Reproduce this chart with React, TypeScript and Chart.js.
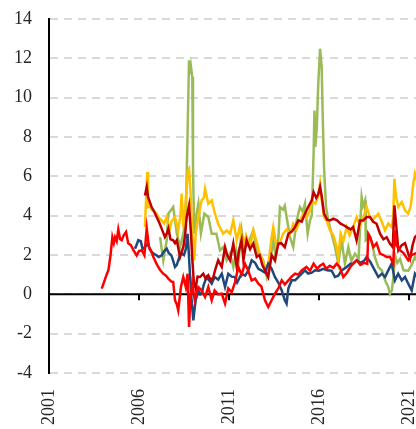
import React, { useEffect, useRef } from "react";
import { Chart, registerables } from "chart.js";

Chart.register(...registerables);

const xTickYears = [2001, 2006, 2011, 2016, 2021];
const xMin = 2001;
const xMax = 2021.39;
const yMin = -4;
const yMax = 14;
const yStep = 2;

const redSeries: [number, number][] = [
  [2003.93, 0.29], [2004.05, 0.6], [2004.2, 1.0], [2004.3, 1.22], [2004.42, 2.0], [2004.52, 2.9],
  [2004.6, 2.6], [2004.67, 2.9], [2004.76, 2.7], [2004.85, 3.3], [2004.95, 2.8], [2005.04, 2.75],
  [2005.15, 3.0], [2005.28, 3.17], [2005.4, 2.6], [2005.55, 2.5], [2005.7, 2.24], [2005.87, 1.98],
  [2006.0, 2.2], [2006.15, 2.24], [2006.3, 1.98], [2006.43, 3.35], [2006.5, 2.8], [2006.56, 2.4],
  [2006.68, 2.2], [2006.8, 1.9], [2006.95, 1.6], [2007.07, 1.39], [2007.2, 1.2], [2007.35, 1.05],
  [2007.5, 0.95], [2007.63, 0.8], [2007.8, 0.65], [2007.9, 0.63], [2008.0, -0.3], [2008.1, -0.5],
  [2008.18, -0.81], [2008.33, 0.37], [2008.46, 0.88], [2008.6, 0.37], [2008.7, 1.05], [2008.78, -1.66],
  [2008.85, -0.3], [2008.96, 0.54], [2009.1, -0.3], [2009.2, 0.1], [2009.3, 0.37], [2009.48, 0.2],
  [2009.67, -0.14], [2009.85, 0.37], [2010.04, -0.3], [2010.2, 0.2], [2010.4, 0.0], [2010.6, 0.03],
  [2010.78, -0.47], [2010.96, 0.3], [2011.15, 0.1], [2011.33, 0.6], [2011.52, 1.39], [2011.7, 1.0],
  [2011.89, 1.56], [2012.07, 1.2], [2012.26, 0.71], [2012.45, 0.8], [2012.63, 0.54], [2012.8, 0.4],
  [2013.0, -0.3], [2013.18, -0.64], [2013.37, -0.3], [2013.55, 0.03], [2013.74, 0.3], [2013.93, 0.71],
  [2014.1, 0.5], [2014.3, 0.71], [2014.48, 0.9], [2014.67, 1.05], [2014.85, 1.0], [2015.04, 1.22],
  [2015.3, 1.39], [2015.5, 1.2], [2015.7, 1.56], [2015.9, 1.3], [2016.05, 1.45], [2016.24, 1.56],
  [2016.4, 1.3], [2016.6, 1.45], [2016.8, 1.35], [2016.98, 1.56], [2017.15, 1.4], [2017.35, 0.88],
  [2017.55, 1.1], [2017.75, 1.4], [2017.9, 1.56], [2018.09, 1.73], [2018.3, 1.5], [2018.5, 1.6],
  [2018.68, 1.55], [2018.74, 3.08], [2018.85, 2.9], [2019.02, 2.4], [2019.2, 2.6], [2019.39, 2.07],
  [2019.58, 2.0], [2019.76, 1.9], [2019.95, 1.9], [2020.13, 1.56], [2020.2, 3.25], [2020.3, 2.5],
  [2020.5, 2.24], [2020.7, 2.1], [2020.96, 1.73], [2021.15, 2.0], [2021.33, 2.07], [2021.45, 2.1],
];

const blueSeries: [number, number][] = [
  [2005.78, 2.32], [2005.9, 2.6], [2005.96, 2.75], [2006.1, 2.7], [2006.2, 2.3], [2006.33, 2.4],
  [2006.5, 2.58], [2006.6, 2.3], [2006.7, 2.15], [2006.85, 2.05], [2006.98, 1.98], [2007.1, 1.9],
  [2007.26, 1.98], [2007.4, 2.2], [2007.54, 2.32], [2007.65, 2.1], [2007.8, 1.98], [2007.9, 1.7],
  [2008.0, 1.39], [2008.1, 1.5], [2008.18, 1.73], [2008.28, 2.0], [2008.37, 2.07], [2008.5, 2.0],
  [2008.6, 2.3], [2008.7, 3.08], [2008.76, 2.2], [2008.83, 1.05], [2008.92, -0.3], [2009.02, -1.32],
  [2009.08, -0.8], [2009.15, -0.3], [2009.3, 0.2], [2009.4, 0.0], [2009.48, 0.03], [2009.6, 0.5],
  [2009.76, 0.88], [2009.9, 0.7], [2010.04, 0.54], [2010.2, 0.88], [2010.4, 0.75], [2010.6, 1.05],
  [2010.78, 0.37], [2010.96, 1.05], [2011.15, 0.9], [2011.33, 0.88], [2011.45, 0.6], [2011.7, 1.05],
  [2011.9, 0.95], [2012.07, 1.2], [2012.26, 1.73], [2012.45, 1.6], [2012.63, 1.3], [2012.8, 1.22],
  [2013.0, 1.1], [2013.18, 1.56], [2013.37, 1.3], [2013.55, 0.88], [2013.74, 0.6], [2013.93, 0.2],
  [2014.1, -0.3], [2014.2, -0.47], [2014.3, 0.3], [2014.48, 0.71], [2014.67, 0.71], [2014.85, 0.88],
  [2015.04, 1.05], [2015.22, 1.22], [2015.4, 1.05], [2015.6, 1.1], [2015.78, 1.22], [2016.0, 1.2],
  [2016.24, 1.3], [2016.45, 1.22], [2016.7, 1.2], [2016.89, 0.88], [2017.07, 0.95], [2017.26, 1.22],
  [2017.54, 1.39], [2017.75, 1.56], [2017.9, 1.56], [2018.09, 1.73], [2018.3, 1.6], [2018.5, 1.7],
  [2018.65, 1.9], [2018.85, 1.65], [2019.1, 1.22], [2019.3, 0.88], [2019.5, 1.05], [2019.67, 0.88],
  [2019.85, 1.22], [2020.04, 1.56], [2020.22, 0.71], [2020.4, 1.05], [2020.6, 0.71], [2020.78, 0.88],
  [2020.96, 0.54], [2021.15, 0.2], [2021.33, 1.05], [2021.45, 0.9],
];

const darkRedSeries: [number, number][] = [
  [2006.33, 5.03], [2006.43, 5.46], [2006.5, 4.95], [2006.6, 4.7], [2006.7, 4.44], [2006.85, 4.2],
  [2006.98, 3.93], [2007.1, 3.7], [2007.26, 3.34], [2007.44, 2.91], [2007.55, 3.1], [2007.63, 3.34],
  [2007.75, 2.8], [2007.9, 2.75], [2008.0, 2.6], [2008.1, 2.75], [2008.28, 1.9], [2008.46, 2.4],
  [2008.56, 3.0], [2008.65, 3.93], [2008.78, 4.52], [2008.89, 3.08], [2008.96, 1.8], [2009.05, 0.6],
  [2009.15, 0.3], [2009.25, 0.9], [2009.39, 0.88], [2009.57, 1.05], [2009.7, 0.8], [2009.85, 0.97],
  [2010.0, 0.7], [2010.13, 0.88], [2010.25, 1.3], [2010.4, 1.73], [2010.6, 1.39], [2010.78, 2.4],
  [2010.9, 2.0], [2011.06, 1.73], [2011.24, 2.58], [2011.43, 1.39], [2011.55, 2.2], [2011.7, 2.75],
  [2011.8, 1.73], [2011.98, 2.75], [2012.17, 2.3], [2012.35, 2.58], [2012.54, 1.9], [2012.7, 2.0],
  [2012.85, 1.5], [2013.0, 1.22], [2013.18, 0.88], [2013.37, 2.0], [2013.55, 1.73], [2013.74, 2.58],
  [2013.9, 2.6], [2014.1, 2.4], [2014.3, 3.08], [2014.5, 3.2], [2014.67, 3.42], [2014.85, 3.76],
  [2015.04, 3.7], [2015.22, 4.1], [2015.4, 4.44], [2015.6, 4.78], [2015.7, 5.2], [2015.85, 4.9],
  [2015.96, 5.1], [2016.06, 5.46], [2016.15, 5.0], [2016.28, 4.1], [2016.45, 3.8], [2016.61, 3.76],
  [2016.8, 3.85], [2017.0, 3.76], [2017.2, 3.59], [2017.4, 3.5], [2017.54, 3.42], [2017.75, 3.3],
  [2017.9, 3.42], [2018.09, 2.75], [2018.28, 3.76], [2018.46, 3.76], [2018.65, 3.93], [2018.83, 3.93],
  [2019.0, 3.7], [2019.2, 3.59], [2019.39, 3.08], [2019.58, 2.8], [2019.76, 2.9], [2019.94, 2.58],
  [2020.1, 2.4], [2020.19, 4.52], [2020.3, 3.4], [2020.41, 2.24], [2020.6, 2.5], [2020.78, 2.6],
  [2020.96, 2.07], [2021.06, 1.81], [2021.2, 2.5], [2021.33, 2.91], [2021.45, 3.0],
];

const yellowSeries: [number, number][] = [
  [2006.33, 3.42], [2006.4, 5.0], [2006.46, 6.22], [2006.5, 4.44], [2006.6, 4.5], [2006.7, 4.3],
  [2006.85, 4.2], [2006.98, 4.1], [2007.1, 3.9], [2007.26, 3.76], [2007.4, 3.6], [2007.54, 3.93],
  [2007.7, 3.25], [2007.8, 3.7], [2008.0, 3.93], [2008.18, 3.25], [2008.3, 4.0], [2008.37, 5.12],
  [2008.46, 3.4], [2008.55, 4.2], [2008.65, 5.46], [2008.72, 6.3], [2008.78, 6.39], [2008.89, 4.78],
  [2008.96, 3.1], [2009.07, 1.73], [2009.15, 3.08], [2009.3, 3.93], [2009.48, 4.78], [2009.6, 4.9],
  [2009.67, 5.37], [2009.85, 4.61], [2010.04, 4.78], [2010.22, 4.1], [2010.4, 3.59], [2010.55, 3.3],
  [2010.68, 3.08], [2010.87, 3.25], [2011.06, 3.08], [2011.24, 3.76], [2011.43, 2.75], [2011.6, 3.42],
  [2011.78, 2.4], [2011.95, 3.0], [2012.17, 2.4], [2012.35, 3.25], [2012.5, 2.8], [2012.7, 2.07],
  [2012.85, 1.8], [2013.0, 1.39], [2013.18, 1.5], [2013.37, 2.91], [2013.46, 3.42], [2013.65, 2.4],
  [2013.83, 2.6], [2014.0, 3.08], [2014.2, 3.3], [2014.39, 3.08], [2014.57, 3.59], [2014.75, 3.3],
  [2014.94, 3.76], [2015.13, 4.1], [2015.3, 3.9], [2015.5, 4.27], [2015.6, 4.78], [2015.8, 4.6],
  [2015.96, 5.0], [2016.06, 5.63], [2016.15, 4.8], [2016.28, 3.93], [2016.45, 3.7], [2016.61, 3.25],
  [2016.8, 3.0], [2016.98, 2.4], [2017.07, 1.9], [2017.2, 3.08], [2017.35, 2.7], [2017.54, 3.42],
  [2017.7, 3.0], [2017.9, 3.42], [2018.09, 3.93], [2018.28, 3.5], [2018.46, 3.9], [2018.65, 4.44],
  [2018.83, 3.93], [2019.0, 3.8], [2019.3, 4.1], [2019.48, 3.7], [2019.67, 3.25], [2019.85, 3.6],
  [2020.04, 3.42], [2020.12, 3.9], [2020.19, 5.88], [2020.28, 4.95], [2020.41, 4.44], [2020.6, 4.7],
  [2020.78, 4.27], [2020.96, 4.1], [2021.1, 4.5], [2021.24, 5.63], [2021.33, 6.14], [2021.45, 5.8],
];

const greenSeries: [number, number][] = [
  [2007.17, 2.91], [2007.35, 1.73], [2007.54, 2.75], [2007.63, 4.1], [2007.9, 4.44], [2008.1, 3.1],
  [2008.28, 2.4], [2008.46, 3.08], [2008.6, 3.93], [2008.7, 8.2], [2008.78, 11.9], [2008.85, 11.2],
  [2008.89, 11.56], [2008.96, 11.05], [2009.0, 6.47], [2009.07, 3.08], [2009.2, 4.1], [2009.3, 4.61],
  [2009.44, 3.1], [2009.63, 4.1], [2009.85, 3.93], [2010.04, 3.08], [2010.3, 3.08], [2010.5, 2.24],
  [2010.68, 2.4], [2010.87, 1.73], [2011.06, 2.07], [2011.24, 1.39], [2011.4, 2.2], [2011.52, 1.56],
  [2011.7, 3.25], [2011.85, 2.3], [2012.07, 2.58], [2012.2, 2.9], [2012.35, 3.25], [2012.5, 2.5],
  [2012.63, 2.07], [2012.9, 1.73], [2013.1, 0.88], [2013.3, 1.73], [2013.46, 2.75], [2013.6, 1.9],
  [2013.75, 2.9], [2013.83, 4.44], [2014.0, 4.3], [2014.1, 4.5], [2014.2, 3.93], [2014.39, 2.91],
  [2014.57, 2.4], [2014.76, 3.76], [2014.94, 4.44], [2015.1, 4.2], [2015.22, 4.61], [2015.37, 3.08],
  [2015.5, 3.76], [2015.6, 4.0], [2015.7, 7.15], [2015.75, 9.35], [2015.8, 7.49], [2015.88, 8.5],
  [2015.96, 10.71], [2016.06, 12.49], [2016.15, 11.56], [2016.2, 9.35], [2016.28, 6.47], [2016.39, 4.44],
  [2016.52, 3.76], [2016.7, 3.08], [2016.89, 2.4], [2017.07, 1.56], [2017.26, 2.75], [2017.44, 1.56],
  [2017.63, 2.4], [2017.8, 1.7], [2018.0, 2.07], [2018.2, 1.8], [2018.37, 4.95], [2018.45, 4.5],
  [2018.56, 4.78], [2018.6, 2.75], [2018.8, 2.9], [2018.95, 2.6], [2019.1, 1.9], [2019.3, 1.39],
  [2019.5, 1.2], [2019.67, 0.71], [2019.85, 0.37], [2019.94, 0.03], [2020.05, 0.2], [2020.15, 1.0],
  [2020.22, 2.0], [2020.35, 1.6], [2020.5, 1.8], [2020.7, 1.22], [2020.96, 1.2], [2021.15, 1.5],
  [2021.33, 1.9], [2021.45, 1.7],
];

const FONT = { family: "'Liberation Serif', 'Times New Roman', serif", size: 18 };
const TEXT = "#262626";

const toPoints = (s: [number, number][]) => s.map(([x, y]) => ({ x, y }));

const axisPlugin = {
  id: "axisLines",
  beforeDatasetsDraw(chart: any) {
    const { ctx, chartArea, scales } = chart;
    const x = scales.x;
    const y = scales.y;
    const y0 = y.getPixelForValue(0);
    ctx.save();
    ctx.strokeStyle = "#000";
    ctx.lineWidth = 2;
    ctx.beginPath();
    ctx.moveTo(chartArea.left, y0);
    ctx.lineTo(chartArea.right, y0);
    for (const yr of xTickYears) {
      const px = x.getPixelForValue(yr);
      ctx.moveTo(px, y0);
      ctx.lineTo(px, y0 + 6);
    }
    ctx.stroke();
    ctx.restore();
  },
};

export default function App() {
  const ref = useRef<HTMLCanvasElement | null>(null);
  useEffect(() => {
    if (!ref.current) return;
    const mk = (label: string, s: [number, number][], color: string) => ({
      label,
      data: toPoints(s),
      borderColor: color,
      backgroundColor: color,
      borderWidth: 2.5,
      pointRadius: 0,
      fill: false,
      tension: 0,
    });
    const chart = new Chart(ref.current, {
      type: "line",
      data: {
        datasets: [
          mk("red", redSeries, "#FF0000"),
          mk("darkred", darkRedSeries, "#C00000"),
          mk("blue", blueSeries, "#1F497D"),
          mk("yellow", yellowSeries, "#FFC000"),
          mk("green", greenSeries, "#9BBB59"),
        ],
      },
      options: {
        animation: false,
        responsive: false,
        layout: { padding: { top: 19, left: 0, right: 0, bottom: 0 } },
        plugins: { legend: { display: false }, tooltip: { enabled: false } },
        scales: {
          x: {
            type: "linear",
            min: xMin,
            max: xMax,
            grid: { display: false, drawTicks: false },
            border: { display: false },
            afterBuildTicks: (s: any) => {
              s.ticks = xTickYears.map((v) => ({ value: v }));
            },
            afterFit: (s: any) => {
              s.height = 56;
              s.paddingLeft = 0;
              s.paddingRight = 0;
            },
            ticks: {
              autoSkip: false,
              minRotation: 90,
              maxRotation: 90,
              padding: 16,
              color: TEXT,
              font: FONT,
              callback: (v: any) => String(v),
            },
          },
          y: {
            min: yMin,
            max: yMax,
            grid: { color: "#D9D9D9", lineWidth: 2, drawTicks: false },
            border: { display: true, color: "#000", width: 2, dash: [8, 6] },
            afterFit: (s: any) => {
              s.width = 49;
              s.paddingTop = 0;
              s.paddingBottom = 0;
            },
            ticks: {
              stepSize: yStep,
              padding: 17,
              color: TEXT,
              font: FONT,
              callback: (v: any) => String(v),
            },
          },
        },
      },
      plugins: [axisPlugin],
    });
    return () => chart.destroy();
  }, []);
  return (
    <div style={{ position: "absolute", left: 0, top: 0, width: 416, height: 429 }}>
      <canvas ref={ref} width={416} height={429} style={{ display: "block" }} />
    </div>
  );
}
